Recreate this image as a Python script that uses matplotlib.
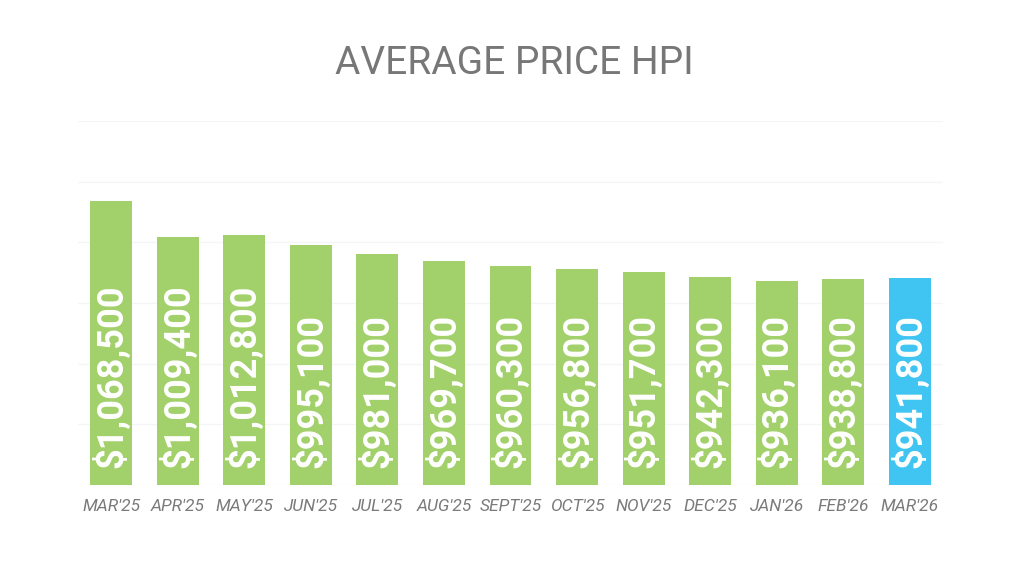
import matplotlib
matplotlib.use("Agg")
import matplotlib.pyplot as plt

months = ["MAR'25", "APR'25", "MAY'25", "JUN'25", "JUL'25", "AUG'25", "SEPT'25",
          "OCT'25", "NOV'25", "DEC'25", "JAN'26", "FEB'26", "MAR'26"]
prices = [1068500, 1009400, 1012800, 995100, 981000, 969700, 960300,
          956800, 951700, 942300, 936100, 938800, 941800]
labels = ["$1,068,500", "$1,009,400", "$1,012,800", "$995,100", "$981,000", "$969,700",
          "$960,300", "$956,800", "$951,700", "$942,300", "$936,100", "$938,800", "$941,800"]

GREEN = "#a2d06a"
BLUE = "#40c4f1"
colors = [GREEN] * (len(months) - 1) + [BLUE]

plt.rcParams['font.family'] = ['Roboto', 'DejaVu Sans']

fig = plt.figure(figsize=(10.24, 5.76), dpi=100)
ax = fig.add_axes([78 / 1024, 1 - 485 / 576, (943 - 78) / 1024, (485 - 121) / 576])

x = list(range(len(months)))
ax.bar(x, prices, width=0.63, color=colors, zorder=2)
ax.set_ylim(600000, 1200000)
ax.set_xlim(-0.5, len(months) - 0.5)
ax.set_yticks(range(600000, 1200001, 100000))
ax.yaxis.grid(True, color="#f5f5f5", linewidth=1, zorder=0)
ax.set_yticklabels([])
ax.tick_params(axis='y', length=0)
ax.tick_params(axis='x', length=0, pad=10)
ax.set_xticks(x)
ax.set_xticklabels(months, fontsize=12.5, style='italic', color="#7a7a7a")
for s in ax.spines.values():
    s.set_visible(False)

for xi, lab in zip(x, labels):
    ax.annotate(lab, (xi, 600000), xytext=(0, 12), textcoords='offset points',
                rotation=90, ha='center', va='bottom', color='white',
                fontsize=26, fontweight='bold', zorder=3)

fig.text(0.502, 1 - 64 / 576, "AVERAGE PRICE HPI", ha='center', va='center',
         fontsize=28, color="#777777")

fig.savefig("out.png", dpi=100, facecolor='white')
